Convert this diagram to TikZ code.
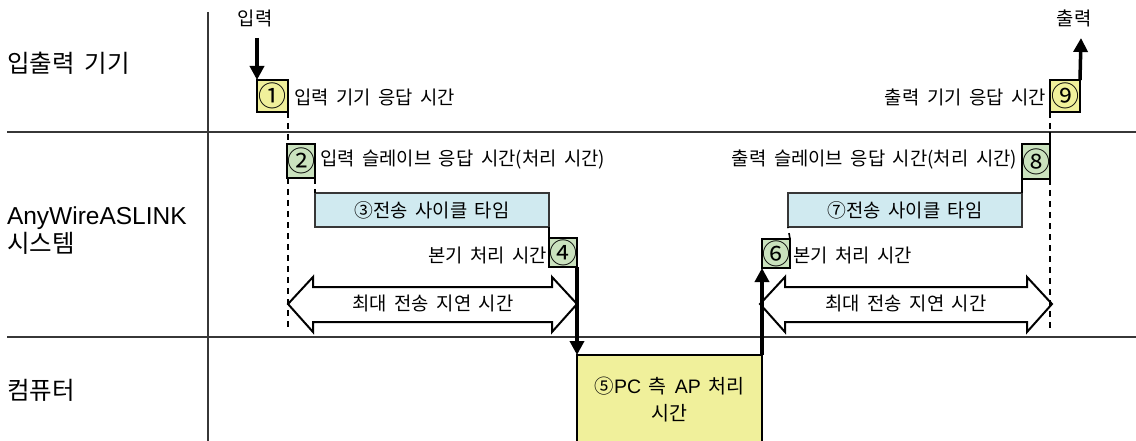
\documentclass[tikz,border=0pt]{standalone}
\usepackage{fontspec}
\setmainfont{Noto Sans CJK KR}[WordSpace=1.8]
\newfontfamily\lat{Liberation Sans}
\usetikzlibrary{arrows.meta}
\definecolor{yel}{RGB}{240,240,155}
\definecolor{grn}{RGB}{202,226,190}
\definecolor{blu}{RGB}{208,234,240}
\definecolor{ln}{RGB}{55,55,55}
\begin{document}
\begin{tikzpicture}[x=1pt,y=-1pt,
  every node/.style={inner sep=0pt, outer sep=0pt, font=\fontsize{18.8}{22}\selectfont},
  frame/.style={draw=ln, line width=1.8pt},
  numbox/.style={draw=black, line width=1.3pt, anchor=north west, font=\fontsize{28}{28}\selectfont},
  ybox/.style={numbox, fill=yel},
  gbox/.style={numbox, fill=grn},
  bbox/.style={draw=ln, line width=1.3pt, fill=blu, anchor=north west},
  dline/.style={draw=black, line width=1.6pt, dash pattern=on 6pt off 5pt},
  sline/.style={draw=black, line width=1.6pt},
  tarrow/.style={draw=black, line width=3.5pt, -{Triangle[length=14pt,width=14pt]}},
  blockarrow/.style={draw=black, line width=2pt, fill=white, line join=miter},
  side/.style={anchor=west, font=\fontsize{24.5}{28}\selectfont, align=left}
]
\useasboundingbox (0,0) rectangle (1136,441);
% frame lines
\draw[frame] (208,12) -- (208,441);
\draw[frame] (7,132) -- (1136,132);
\draw[frame] (7,337) -- (1136,337);
% row labels
\node[side] (r1) at (7,63) {입출력 기기};
\node[side] (r2) at (7,231) {{\lat AnyWireASLINK}\\시스템};
\node[side] (r3) at (7,390) {컴퓨터};
% coordinates
\coordinate (inTop) at (257,38);
\coordinate (outTop) at (1081,38);
\coordinate (d1) at (288,330);
\coordinate (d8) at (1050,330);
\coordinate (h8) at (1050,132);
% block double arrows
\draw[blockarrow] (288,304) -- (313,277) -- (313,287) -- (552,287) -- (552,277) -- (577,304)
  -- (552,332) -- (552,322) -- (313,322) -- (313,332) -- cycle;
\draw[blockarrow] (760,304) -- (785,277) -- (785,287) -- (1027,287) -- (1027,277) -- (1052,304)
  -- (1027,332) -- (1027,322) -- (785,322) -- (785,332) -- cycle;
\node (m1) at (433,303) {최대 전송 지연 시간};
\node (m2) at (906,303) {최대 전송 지연 시간};
% dashed guide lines (behind boxes)
\draw[dline] (288,112) -- (d1);
\draw[dline] (1050,179) -- (d8);
% boxes
\node[ybox, minimum width=31pt, minimum height=32pt] (b1) at (257,80) {①};
\node[gbox, minimum width=28pt, minimum height=34pt] (b2) at (287,144) {②};
\node[bbox, minimum width=234pt, minimum height=34pt] (b3) at (315,193) {③전송 사이클 타임};
\node[gbox, minimum width=28pt, minimum height=29pt] (b4) at (549,238) {④};
\node[numbox, fill=yel, minimum width=185pt, minimum height=90pt, align=center, font=\fontsize{19.5}{27}\selectfont] (b5) at (577,355) {⑤{\lat PC} 측 {\lat AP} 처리\\시간};
\node[gbox, minimum width=26pt, minimum height=29pt] (b6) at (762,239) {⑥};
\node[bbox, minimum width=234pt, minimum height=34pt] (b7) at (788,193) {⑦전송 사이클 타임};
\node[gbox, minimum width=28pt, minimum height=35pt] (b8) at (1022,144) {⑧};
\node[ybox, minimum width=30pt, minimum height=32pt] (b9) at (1050,80) {⑨};
% labels
\node (top1) at (255,18) {입력};
\node (top2) at (1074,18) {출력};
\node[anchor=west] (t1) at (294,97) {입력 기기 응답 시간};
\node[anchor=west] (t2) at (320,160) {입력 슬레이브 응답 시간(처리 시간)};
\node[anchor=east] (t4) at (547,255) {본기 처리 시간};
\node[anchor=west] (t6) at (793,255) {본기 처리 시간};
\node[anchor=east] (t8) at (1017,160) {출력 슬레이브 응답 시간(처리 시간)};
\node[anchor=east] (t9) at (1046,97) {출력 기기 응답 시간};
% connectors
\draw[tarrow] (inTop) -- (b1.north west);
\draw[dline] (b2.south east) -- (b3.north west);
\draw[sline] (b3.south east) -- (b4.north west);
\draw[tarrow] (b4.south east) -- (b5.north west);
\draw[tarrow] (b5.north east) -- (b6.south west);
\draw[dline] (b6.north east) -- (b7.south west);
\draw[sline] (b7.north east) -- (b8.south west);
\draw[dline] (b9.south west) -- (h8);
\draw[sline] (h8) -- (b8.north east);
\draw[tarrow] (b9.north east) -- (outTop);
\end{tikzpicture}
\end{document}
